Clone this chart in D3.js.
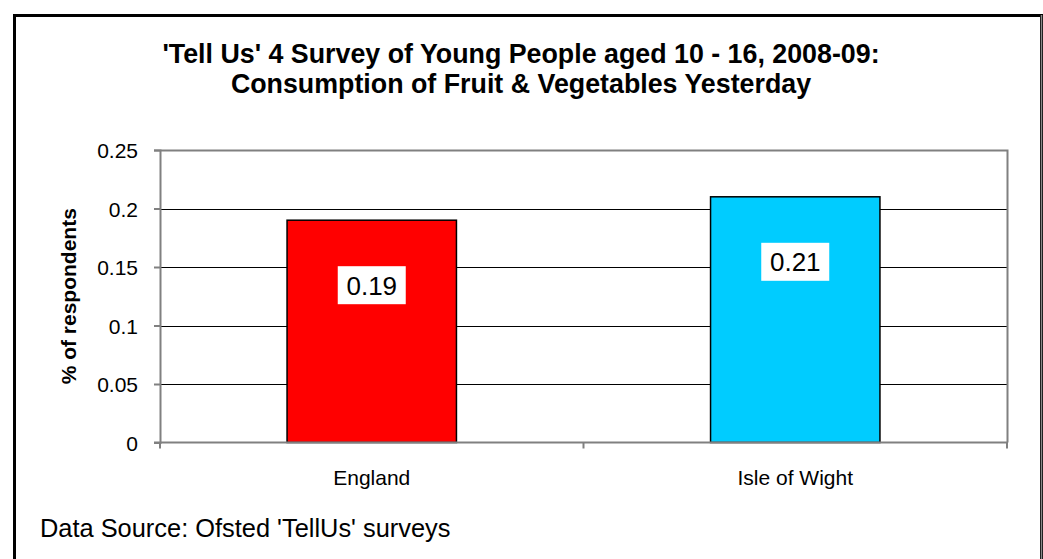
<!DOCTYPE html>
<html>
<head>
<meta charset="utf-8">
<script src="https://cdn.jsdelivr.net/npm/d3@7"></script>
<style>
  html, body { margin: 0; padding: 0; background: #fff; }
  svg { display: block; }
  text { font-family: Arial, "Liberation Sans", sans-serif; fill: #000; }
</style>
</head>
<body>
<svg id="chart" width="1043" height="559"></svg>
<script>
// Survey results: share of young people who ate fruit & vegetables yesterday
const categories = ["England", "Isle of Wight"];
const values = [0.19, 0.21];
const barColors = ["#ff0000", "#00ccff"];
const yTicks = [0, 0.05, 0.1, 0.15, 0.2, 0.25];
const titleLines = [
  "'Tell Us' 4 Survey of Young People aged 10 - 16, 2008-09:",
  "Consumption of Fruit & Vegetables Yesterday"
];
const yAxisTitle = "% of respondents";
const sourceNote = "Data Source: Ofsted 'TellUs' surveys";

const svg = d3.select("#chart");
const W = 1043, H = 559;

// outer chart frame
svg.append("rect")
  .attr("x", 14.5).attr("y", 15.5)
  .attr("width", 1027).attr("height", 560)
  .attr("fill", "#fff").attr("stroke", "#000").attr("stroke-width", 3);
svg.append("line")
  .attr("x1", 1041.5).attr("x2", 1041.5).attr("y1", 15).attr("y2", H)
  .attr("stroke", "#888").attr("stroke-width", 1.5);

const plot = { left: 160, top: 150, right: 1007, bottom: 442.5 };

const x = d3.scaleBand()
  .domain(categories)
  .range([plot.left, plot.right])
  .paddingInner(0.6).paddingOuter(0.3);

const y = d3.scaleLinear()
  .domain([0, 0.25])
  .range([plot.bottom, plot.top]);

// gridlines
svg.append("g")
  .selectAll("line")
  .data(yTicks.filter(t => t > 0 && t < 0.25))
  .join("line")
  .attr("x1", plot.left).attr("x2", plot.right)
  .attr("y1", d => Math.round(y(d)) + 0.5).attr("y2", d => Math.round(y(d)) + 0.5)
  .attr("stroke", "#000").attr("stroke-width", 1);

// plot area frame (top and right edges)
svg.append("path")
  .attr("d", `M${plot.left},${plot.top + 0.5}H${plot.right + 0.5}V${plot.bottom}`)
  .attr("fill", "none").attr("stroke", "#808080").attr("stroke-width", 2);

// bars
svg.append("g")
  .selectAll("rect")
  .data(categories)
  .join("rect")
  .attr("x", d => x(d))
  .attr("y", (d, i) => y(values[i]))
  .attr("width", x.bandwidth())
  .attr("height", (d, i) => y(0) - y(values[i]))
  .attr("fill", (d, i) => barColors[i])
  .attr("stroke", "#000").attr("stroke-width", 1.5);

// y axis
const yAxis = d3.axisLeft(y)
  .tickValues(yTicks)
  .tickFormat(d => String(+d.toFixed(2)))
  .tickSize(6).tickPadding(16);
const gy = svg.append("g").attr("transform", `translate(${plot.left},0)`).call(yAxis);
gy.select(".domain").attr("stroke", "#808080").attr("stroke-width", 2);
gy.selectAll(".tick line").attr("stroke", "#808080").attr("stroke-width", 2);
gy.selectAll(".tick text").attr("font-size", 21).attr("font-family", "Arial, 'Liberation Sans', sans-serif").attr("dy", "0.36em");

// x axis: ticks on category boundaries
const boundaries = [plot.left, (plot.left + plot.right) / 2, plot.right];
const gx = svg.append("g");
gx.append("line")
  .attr("x1", plot.left - 6).attr("x2", plot.right + 1)
  .attr("y1", plot.bottom).attr("y2", plot.bottom)
  .attr("stroke", "#808080").attr("stroke-width", 2);
gx.selectAll("line.tk").data(boundaries).join("line").attr("class", "tk")
  .attr("x1", d => d).attr("x2", d => d)
  .attr("y1", plot.bottom).attr("y2", plot.bottom + 6)
  .attr("stroke", "#808080").attr("stroke-width", 2);
gx.selectAll("text").data(categories).join("text")
  .attr("x", d => x(d) + x.bandwidth() / 2)
  .attr("y", 485)
  .attr("text-anchor", "middle")
  .attr("font-size", 21)
  .text(d => d);

// value labels in white boxes
const labels = svg.append("g").selectAll("g").data(categories).join("g")
  .attr("transform", (d, i) => `translate(${x(d) + x.bandwidth() / 2},${y(values[i]) + 65})`);
labels.append("rect")
  .attr("x", -34).attr("y", -19).attr("width", 68).attr("height", 38)
  .attr("fill", "#fff");
labels.append("text")
  .attr("text-anchor", "middle").attr("dy", "0.36em")
  .attr("font-size", 26)
  .text((d, i) => values[i]);

// titles
svg.append("g").selectAll("text").data(titleLines).join("text")
  .attr("x", 521).attr("y", (d, i) => 63 + i * 30)
  .attr("text-anchor", "middle")
  .attr("font-size", 26.8).attr("font-weight", "bold")
  .text(d => d);

svg.append("text")
  .attr("transform", `translate(76,${(plot.top + plot.bottom) / 2}) rotate(-90)`)
  .attr("text-anchor", "middle")
  .attr("font-size", 21).attr("font-weight", "bold")
  .text(yAxisTitle);

svg.append("text")
  .attr("x", 40).attr("y", 537)
  .attr("font-size", 25.4)
  .text(sourceNote);
</script>
</body>
</html>
